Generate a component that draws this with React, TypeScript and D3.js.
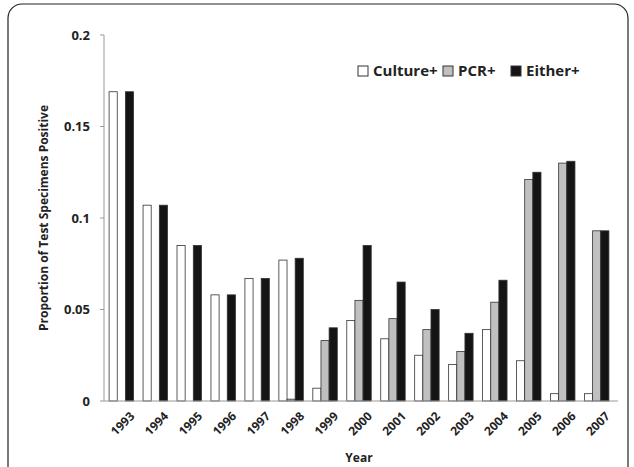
import * as d3 from 'd3';

const years = ['1993','1994','1995','1996','1997','1998','1999','2000','2001','2002','2003','2004','2005','2006','2007'];
const culture = [0.169,0.107,0.085,0.058,0.067,0.077,0.007,0.044,0.034,0.025,0.02,0.039,0.022,0.004,0.004];
const pcr = [0,0,0,0,0,0.001,0.033,0.055,0.045,0.039,0.027,0.054,0.121,0.13,0.093];
const either = [0.169,0.107,0.085,0.058,0.067,0.078,0.04,0.085,0.065,0.05,0.037,0.066,0.125,0.131,0.093];
const yTicks = [0, 0.05, 0.1, 0.15, 0.2];
const seriesNames = ['Culture+', 'PCR+', 'Either+'];
const fills = ['#ffffff', '#c0c0c0', '#141414'];

export default function App() {
  const W = 634, H = 467;
  const m = { left: 104, right: 20, top: 35, bottom: 66 };
  const x = d3.scaleBand().domain(years).range([m.left, W - m.right]).paddingInner(0.28).paddingOuter(0.15);
  const sub = d3.scaleBand().domain(seriesNames).range([0, x.bandwidth()]);
  const y = d3.scaleLinear().domain([0, 0.2]).range([H - m.bottom, m.top]);
  const series = [culture, pcr, either];
  const fmt = (v: number) => (v === 0 ? '0' : String(v));
  return (
    <svg width={W} height={H} style={{ position: 'absolute', left: 0, top: 0, fontFamily: '"Open Sans", sans-serif' }}>
      <rect x={0} y={0} width={W} height={H} fill="#fff" />
      <rect x={8} y={4} width={620} height={480} rx={14} fill="none" stroke="#222" strokeWidth={1.2} />
      <line x1={m.left} x2={m.left} y1={m.top} y2={y(0)} stroke="#999" />
      {yTicks.map(t => (
        <g key={t}>
          <line x1={m.left - 4} x2={m.left} y1={y(t)} y2={y(t)} stroke="#999" />
          <text x={m.left - 14} y={y(t)} dy="0.35em" textAnchor="end" fontSize={13} fontWeight="bold" fill="#222">{fmt(t)}</text>
        </g>
      ))}
      {years.map((yr, i) => (
        <g key={yr}>
          {series.map((s, j) => s[i] > 0 && (
            <rect key={j} x={(x(yr) ?? 0) + (sub(seriesNames[j]) ?? 0)} y={y(s[i])} width={sub.bandwidth()}
              height={y(0) - y(s[i])} fill={fills[j]} stroke="#333" strokeWidth={0.8} />
          ))}
          <text transform={`translate(${(x(yr) ?? 0) + x.bandwidth() / 2 + 8},${y(0) + 10}) rotate(-45)`}
            textAnchor="end" dy="0.7em" fontSize={12} fontWeight="bold" fill="#222">{yr}</text>
        </g>
      ))}
      <line x1={m.left} x2={W - m.right + 4} y1={y(0)} y2={y(0)} stroke="#999" />
      <text x={(m.left + W - m.right) / 2} y={H - 5} textAnchor="middle" fontSize={12} fontWeight="bold" fill="#222">Year</text>
      <text transform={`translate(48,${(m.top + y(0)) / 2}) rotate(-90)`} textAnchor="middle" fontSize={12} fontWeight="bold" fill="#222">Proportion of Test Specimens Positive</text>
      {seriesNames.map((n, j) => {
        const lx = [358, 443, 511][j];
        return (
          <g key={n}>
            <rect x={lx} y={66} width={10} height={10} fill={fills[j]} stroke="#333" />
            <text x={lx + 15} y={71} dy="0.35em" fontSize={15} fontWeight="bold" fill="#222">{n}</text>
          </g>
        );
      })}
    </svg>
  );
}
